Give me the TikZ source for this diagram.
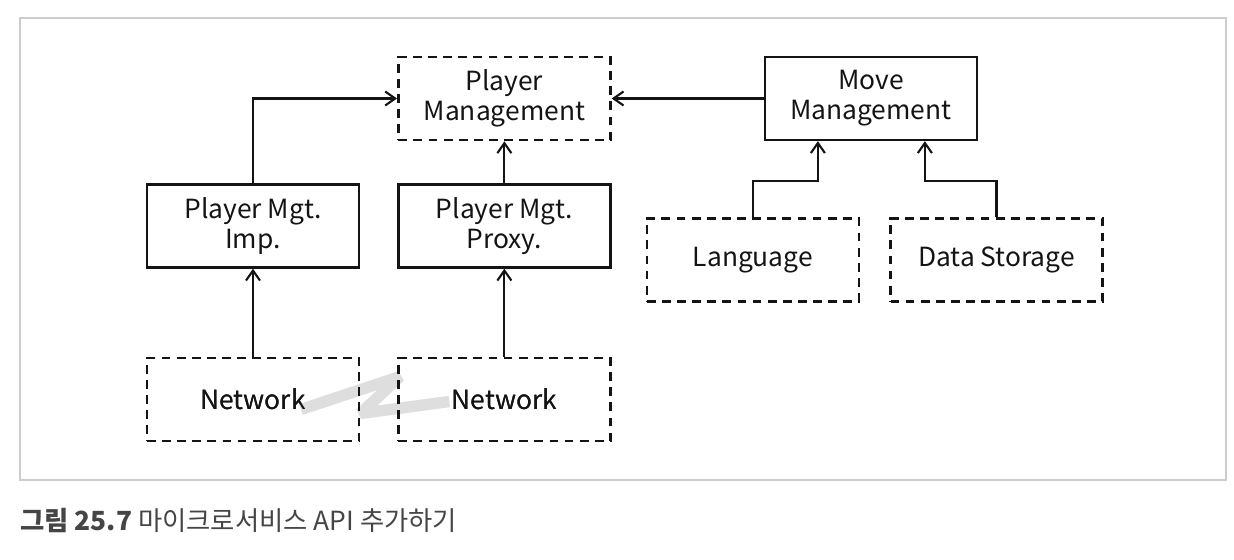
\documentclass[tikz,border=0pt]{standalone}
\usepackage{fontspec}
\setmainfont{Noto Sans CJK KR}
\usepackage{xcolor}
\usetikzlibrary{arrows.meta,positioning,calc}
\definecolor{boxline}{rgb}{0.08,0.08,0.08}
\definecolor{framegray}{rgb}{0.80,0.80,0.80}
\definecolor{capgray}{rgb}{0.27,0.27,0.27}
\definecolor{linkgray}{rgb}{0.87,0.87,0.87}

\begin{document}
\begin{tikzpicture}[
      svc/.style={draw=boxline, line width=1.35pt,
                  minimum width=4.24cm, minimum height=1.66cm,
                  font=\fontsize{15}{17}\selectfont, align=center,
                  text=boxline},
      ext/.style={svc, line width=1.5pt, dash pattern=on 5pt off 3.6pt},
      arr/.style={-{Straight Barb[length=2mm,width=2.8mm]}, line width=1.2pt,
                  color=boxline}
  ]
    \useasboundingbox (0,0) rectangle (24.68,-11.2);
    \draw[framegray, line width=0.8pt] (0.4,-0.36) rectangle (24.52,-9.6);
    \node[svc] at (5.06,-4.52) (imp) {Player Mgt.\\ Imp.};
    \node[svc, right=0.74cm of imp]  (prx) {Player Mgt.\\ Proxy.};
    \node[ext, above=0.84cm of prx]  (pm)  {Player\\ Management};
    \node[svc, right=3.04cm of pm]   (mm)  {Move\\ Management};
    \node[ext, below=1.52cm of mm, xshift=-2.36cm] (lang) {Language};
    \node[ext, right=0.58cm of lang] (ds)  {Data Storage};
    \node[ext, below=1.76cm of imp]  (neta) {Network};
    \node[ext, below=1.76cm of prx]  (netb) {Network};
    % link between the two network parts
    \coordinate (za) at ($(neta.center)+(0.96,-0.2)$);
    \coordinate (zb) at ($(netb.west)+(0.06,0.46)$);
    \coordinate (zc) at ($(neta.east)+(0,-0.28)$);
    \coordinate (zd) at ($(netb.center)+(-1.1,-0.04)$);
    \draw[linkgray, line width=6.5pt, line join=bevel] (za)--(zb)--(zc)--(zd);
    \node[ext] at (neta) {Network};
    \node[ext] at (netb) {Network};
    \draw[arr] (imp.north) |- (pm.west);
    \draw[arr] (prx.north)--(pm.south);
    \draw[arr] (mm.west)--(pm.east);
    \draw[arr] (lang.north) -- ++(0,0.72) -| ([xshift=-1.06cm]mm.south);
    \draw[arr] (ds.north) -- ++(0,0.72) -| ([xshift=1.08cm]mm.south);
    \draw[arr] (neta.north)--(imp.south);
    \draw[arr] (netb.north)--(prx.south);
    \node[anchor=west, text=capgray, font=\fontsize{15}{18}\selectfont]
      (cap) at (0.28,-10.42) {{\bfseries 그림 25.7} 마이크로서비스 API 추가하기};
  \end{tikzpicture}
\end{document}
